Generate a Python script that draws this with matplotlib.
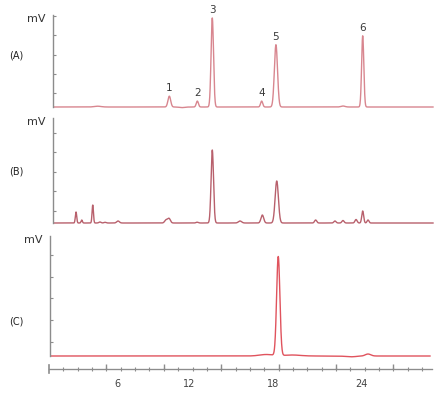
import numpy as np
import matplotlib
matplotlib.use('Agg')
import matplotlib.pyplot as plt

# ---- datos leidos del cromatograma (tiempo en min, altura en unidades relativas) ----
# (A) estandares
tiempo_a = [4.9, 10.17, 11.1, 12.23, 13.33, 16.96, 18.01, 22.94, 24.39]
altura_a = [0.8, 11.0, -0.6, 6.0, 90.0, 6.0, 63.0, 1.0, 72.0]
ancho_a = [0.25, 0.10, 0.20, 0.08, 0.09, 0.08, 0.115, 0.15, 0.08]
# indices de los picos numerados en (A)
picos_numerados = [1, 3, 4, 5, 6, 8]
etiquetas_picos = ['1', '2', '3', '4', '5', '6']

# (B) muestra
tiempo_b = [3.31, 3.73, 4.54, 5.07, 5.44, 6.40, 9.93, 10.15, 12.21, 13.33,
            15.37, 17.01, 18.07, 20.93, 22.35, 22.94, 23.90, 24.39, 24.78]
altura_b = [11.0, 3.0, 18.0, 1.0, 0.7, 2.0, 3.0, 4.5, 0.8, 73.0,
            2.0, 8.0, 42.0, 3.0, 2.0, 2.5, 3.5, 12.0, 3.0]
ancho_b = [0.05, 0.05, 0.05, 0.08, 0.08, 0.1, 0.1, 0.1, 0.08, 0.09,
           0.12, 0.1, 0.12, 0.08, 0.08, 0.08, 0.08, 0.07, 0.07]

# (C) blanco / referencia
tiempo_c = [17.3, 18.18, 19.2, 23.5, 24.78]
altura_c = [1.5, 99.0, 1.0, -0.8, 2.0]
ancho_c = [0.5, 0.12, 0.6, 0.4, 0.2]

etiquetas_x = ['6', '12', '18', '24']
# posicion horizontal (pixel) de cada etiqueta en la figura original
pixel_etiquetas_x = [117, 189, 273, 361]

# ---- utilidades de posicion (pixeles de la figura 441x393) ----
W, H = 441, 393


def px_a_min(px):
    # relacion lineal estimada entre pixel horizontal y tiempo
    return (np.asarray(px, dtype=float) - 31) / 13.6


def rect(x0, y_top, x1, y_bot):
    return [x0 / W, (H - y_bot) / H, (x1 - x0) / W, (y_bot - y_top) / H]


def senal(t, tiempos, alturas, anchos):
    y = np.zeros_like(t)
    for t0, h, s in zip(tiempos, alturas, anchos):
        y += h * np.exp(-0.5 * ((t - t0) / s) ** 2)
    return y


gris = '#8c8c8c'
fig = plt.figure(figsize=(W / 100, H / 100), dpi=100)


def panel(x0, y_top, x1, y_base, ymax, ticks, t_fin, tiempos, alturas, anchos, color, etiqueta, y_etq):
    ax = fig.add_axes(rect(x0, y_top, x1 + 3, y_base + 2))
    escala = (y_base - y_top) / ymax
    ax.set_xlim(px_a_min(x0), px_a_min(x1 + 3))
    ax.set_ylim(-2 / escala, ymax)
    t = np.linspace(px_a_min(x0), t_fin, 3000)
    ax.plot(t, senal(t, tiempos, alturas, anchos), color=color, lw=1.0)
    for lado in ['top', 'right', 'bottom']:
        ax.spines[lado].set_visible(False)
    ax.spines['left'].set_color(gris)
    ax.spines['left'].set_linewidth(1.0)
    ax.spines['left'].set_bounds(0, ymax)
    ax.set_xticks([])
    ax.set_yticks(ticks)
    ax.set_yticklabels([])
    ax.tick_params(axis='y', direction='in', length=2.5, color=gris, width=0.8)
    ax.patch.set_alpha(0)
    fig.text((x0 - 17) / W, 1 - (y_top + 4) / H, 'mV', ha='center', va='center', fontsize=8, color='#333333')
    fig.text(16 / W, 1 - y_etq / H, etiqueta, ha='center', va='center', fontsize=7, color='#222222')
    return ax


ax_a = panel(53, 15, 433, 107, 93, [14, 33.5, 53, 72.5, 92], px_a_min(433),
             tiempo_a, altura_a, ancho_a, '#d8868f', '(A)', 55)
for i, txt in zip(picos_numerados, etiquetas_picos):
    ax_a.annotate(txt, (tiempo_a[i], altura_a[i]), xytext=(0, 2), textcoords='offset points',
                  ha='center', va='bottom', fontsize=7.5, color='#3a3a3a')

ax_b = panel(53, 118, 433, 223, 105, [12, 32, 51, 71, 90], px_a_min(433),
             tiempo_b, altura_b, ancho_b, '#b8606c', '(B)', 172)

ax_c = panel(50, 236, 430, 356, 120, [14.3, 36, 58, 79.3, 101], px_a_min(430),
             tiempo_c, altura_c, ancho_c, '#e0535d', '(C)', 322)

# ---- eje de tiempo inferior ----
ax_x = fig.add_axes(rect(49, 365, 432, 373))
ax_x.set_xlim(px_a_min(49), px_a_min(432))
ax_x.set_ylim(0, 1)
for lado in ['top', 'right']:
    ax_x.spines[lado].set_visible(False)
ax_x.spines['bottom'].set_position(('axes', 0.5))
ax_x.spines['bottom'].set_color(gris)
ax_x.spines['left'].set_color(gris)
ax_x.spines['left'].set_linewidth(1.2)
ax_x.set_yticks([])
ax_x.set_xticks(px_a_min(pixel_etiquetas_x), labels=etiquetas_x)
paso = 14.35 / 13.6
ax_x.set_xticks(px_a_min(49) + paso * np.arange(1, 27), minor=True)
ax_x.tick_params(axis='x', which='major', length=0, pad=7.5, labelsize=7, labelcolor='#444444')
ax_x.tick_params(axis='x', which='minor', direction='inout', length=2.5, color=gris, width=0.8)
ax_x.patch.set_alpha(0)

sec = ax_x.secondary_xaxis(0.5)
sec.set_xticks(px_a_min(49) + 4 * paso * np.arange(1, 7), labels=[])
sec.tick_params(direction='out', length=3.5, color=gris, width=1.0)
sec.spines['bottom'].set_color(gris)

fig.savefig('out.png', dpi=100)
